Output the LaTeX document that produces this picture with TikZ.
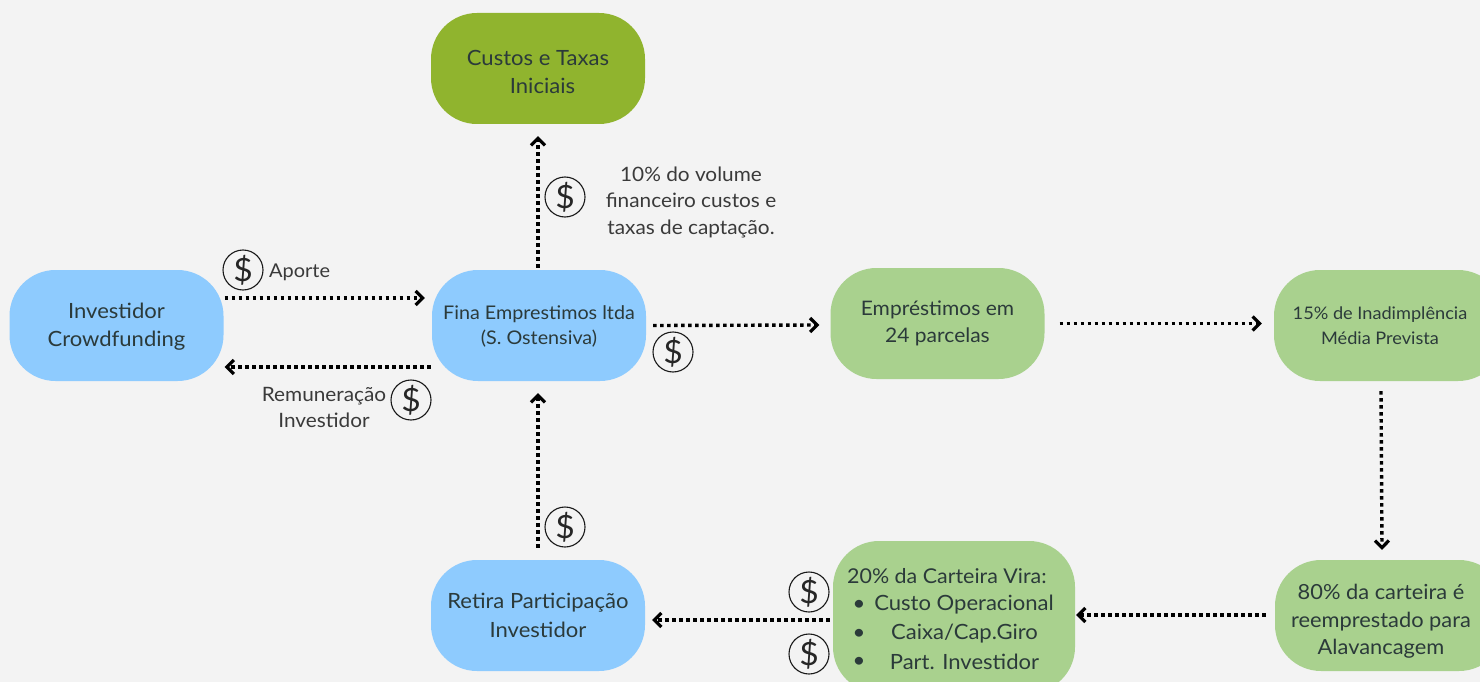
\documentclass[tikz,border=0pt]{standalone}
\usepackage{fontspec}
\setmainfont[FakeStretch=1.05]{Lato}
\usetikzlibrary{arrows.meta}
\definecolor{bgc}{HTML}{F3F3F3}
\definecolor{bluec}{HTML}{8ECBFE}
\definecolor{greenc}{HTML}{A9D18E}
\definecolor{olivec}{HTML}{90B42E}
\definecolor{ink}{HTML}{2B3A3A}
\definecolor{labelc}{HTML}{3A3A3A}
\newcommand{\fsz}[2]{\fontsize{#1}{#2}\selectfont}
\tikzset{
  card/.style={rounded corners=46pt,minimum width=#1,minimum height=111pt,inner sep=0pt,align=center,text=ink,font=\fsz{21}{28}},
  bluecard/.style={card=214pt,fill=bluec},
  greencard/.style={card=214pt,fill=greenc},
  flow/.style={line width=3.4pt,dash pattern=on 3.4pt off 3.6pt,-{Straight Barb[length=7pt,width=14pt,line width=3.2pt]},black},
  coin/.style={circle,draw=black!90,line width=1.1pt,minimum size=40pt,inner sep=0pt,font=\fsz{32}{32},text=black!85},
  note/.style={align=center,text=labelc,inner sep=0pt,font=\fsz{19.8}{26.5}},
  rowtext/.style={text=ink,inner sep=0pt,font=\fsz{21}{21}},
  overlay text/.style={text=ink,align=center,inner sep=0pt},
}
\begin{document}
\begin{tikzpicture}[x=1pt,y=-1pt]
\useasboundingbox (0,0) rectangle (1480,682);
\clip (0,0) rectangle (1480,682);
\fill[bgc] (0,0) rectangle (1480,682);

\node[card=214pt,fill=olivec] (custos) at (538,68.5) {\rule{0pt}{22pt}Custos e Taxas\\\hspace*{9pt}Iniciais};
\node[bluecard] (inv) at (116.5,325.5) {\rule{0pt}{17pt}Investidor\\Crowdfunding};
\node[bluecard,font=\fsz{18.8}{25}] (fina) at (539,325.5) {\rule{0pt}{16pt}Fina Emprestimos ltda\\(S. Ostensiva)};
\node[greencard,font=\fsz{20}{27}] (emp) at (937.5,323.5) {Empréstimos em\\24 parcelas};
\node[card=230pt,fill=greenc] (ina) at (1389,325.5) {};
\node[overlay text,font=\fsz{17.3}{24.5}] (inatext) at (1380,325.5) {15\% de Inadimplência\\Média Prevista};
\node[bluecard,font=\fsz{21}{29}] (ret) at (538,615.5) {Retira Participação\\Investidor};
\node[card=242pt,minimum height=152pt,fill=greenc] (cart) at (954,617) {};
\node[card=230pt,fill=greenc] (re) at (1390,615.5) {};
\node[overlay text,font=\fsz{20.8}{27.3}] (retext) at (1381,621.5) {80\% da carteira é\\reemprestado para\\Alavancagem};

\node[rowtext,anchor=west,font=\fsz{20.4}{21}] (c0) at (847,576) {20\% da Carteira Vira:};
\node[rowtext] (b1) at (859,605) {\textbullet};
\node[rowtext] (c1) at (964,604.5) {Custo Operacional};
\node[rowtext] (b2) at (859,634) {\textbullet};
\node[rowtext] (c2) at (964.5,633.5) {Caixa/Cap.Giro};
\node[rowtext] (b3) at (859,662) {\textbullet};
\node[rowtext] (c3) at (964.5,661.5) {Part. Investidor};

\draw[flow] ([xshift=1pt,yshift=27.5pt]inv.east) -- ([xshift=-7pt,yshift=27.5pt]fina.west);
\draw[flow] ([xshift=-1pt,yshift=-41.5pt]fina.west) -- ([xshift=1pt,yshift=-41.5pt]inv.east);
\draw[flow] ([yshift=2pt]custos.south |- fina.north) -- ([yshift=-12pt]custos.south);
\draw[flow] ([xshift=7pt]fina.east) -- ([xshift=-11pt,yshift=-1.5pt]emp.west);
\draw[flow] ([xshift=15pt]emp.east) -- ([xshift=-12pt]emp.east -| ina.west);
\draw[flow] ([xshift=-8pt,yshift=-10pt]ina.south) -- ([xshift=-8pt,yshift=10pt]re.north);
\draw[flow] ([xshift=-9pt,yshift=0.5pt]re.west) -- ([xshift=1pt,yshift=0.5pt]re.west -| cart.east);
\draw[flow] ([xshift=-3pt,yshift=-3pt]cart.west) -- ([xshift=7pt,yshift=-4.5pt]ret.east);
\draw[flow] ([yshift=12pt]ret.north) -- ([yshift=-12pt]ret.north |- fina.south);

\node[coin] (d1) at (243,270) {\$};
\node[coin] (d2) at (411,400) {\$};
\node[coin] (d3) at (565,197) {\$};
\node[coin] (d4) at (673,352) {\$};
\node[coin] (d5) at (565,527) {\$};
\node[coin] (d6) at (809,592) {\$};
\node[coin] (d7) at (809,654) {\$};

\node[note,anchor=west,font=\fsz{19}{26}] (aporte) at (269,272) {Aporte};
\node[note] (rem) at (324,407.5) {Remuneração\\Investidor};
\node[note] (pct) at (691,202) {10\% do volume\\financeiro custos e\\taxas de captação.};
\end{tikzpicture}
\end{document}
